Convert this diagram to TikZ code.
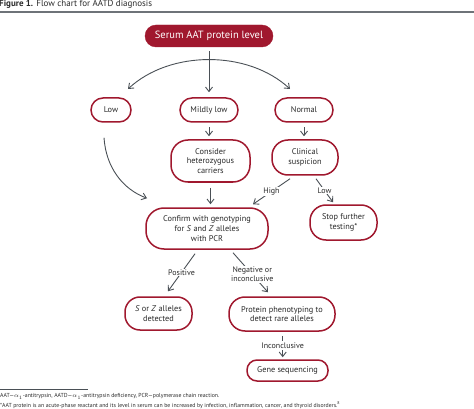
\documentclass[tikz,border=0pt]{standalone}
\usepackage{fontspec}
\setmainfont{PT Sans}
\usetikzlibrary{arrows.meta,calc}
\definecolor{aatred}{HTML}{A0182E}
\definecolor{arrgrey}{HTML}{4A5056}
\definecolor{txtgrey}{HTML}{2A2A2A}
\begin{document}
\begin{tikzpicture}[x=1pt,y=-1pt,
  box/.style={draw=aatred, line width=1.5pt, fill=white, align=center, inner sep=0pt,
    text=txtgrey, font=\fontsize{8.3}{9.6}\selectfont},
  topbox/.style={fill=aatred, draw=aatred, text=white, inner sep=0pt,
    font=\fontsize{10.5}{12}\selectfont, minimum width=128pt, minimum height=22pt, rounded corners=11pt},
  arr/.style={draw=arrgrey, line width=0.9pt, -{Straight Barb[length=4.5pt,width=7pt]}},
  lbl/.style={fill=white, inner sep=1pt, text=txtgrey, font=\fontsize{8}{9.2}\selectfont, align=center}
]
\useasboundingbox (0,0) rectangle (474,409);
% title
\node[anchor=west, inner sep=0pt, text=txtgrey, font=\fontsize{9}{10}\selectfont] (title) at (-1,4.5) {\textbf{Figure 1.} Flow chart for AATD diagnosis};
\draw[draw=arrgrey!80, line width=1.3pt] (0,12) -- (474,12);

\node[topbox] (serum) at (209,36) {Serum AAT protein level};

\node[box, minimum width=40pt, minimum height=24pt, rounded corners=12pt] (low) at (111,110) {Low};
\node[box, minimum width=58pt, minimum height=24pt, rounded corners=12pt] (mild) at (209,110) {Mildly low};
\node[box, minimum width=58pt, minimum height=24pt, rounded corners=12pt] (normal) at (304,110) {Normal};

\node[box, minimum width=79pt, minimum height=42pt, rounded corners=17pt] (cons) at (210.5,161) {Consider\\heterozygous\\carriers};
\node[box, minimum width=66pt, minimum height=35pt, rounded corners=16pt] (clin) at (305,157.5) {Clinical\\suspicion};

\node[box, minimum width=122pt, minimum height=41pt, rounded corners=18pt] (conf) at (207,228.5) {Confirm with genotyping\\for \textit{S} and \textit{Z} alleles\\with PCR};
\node[box, minimum width=67pt, minimum height=35pt, rounded corners=16pt] (stop) at (343.5,222.5) {Stop further\\testing*};

\node[box, minimum width=67pt, minimum height=33pt, rounded corners=15pt] (soz) at (158.5,313.5) {\textit{S} or \textit{Z} alleles\\detected};
\node[box, minimum width=106pt, minimum height=34pt, rounded corners=16pt] (prot) at (282,314) {Protein phenotyping to\\detect rare alleles};
\node[box, minimum width=81pt, minimum height=21pt, rounded corners=10pt] (gene) at (287.5,370.5) {Gene sequencing};

% connectors
\draw[arr, shorten <=4pt, shorten >=5pt] (serum.south) -- (serum.south |- mild.north);
\coordinate (arcL) at (128,89);
\coordinate (arcR) at (290,89);
\draw[draw=arrgrey, line width=0.9pt, {Straight Barb[length=4.5pt,width=7pt]}-{Straight Barb[length=4.5pt,width=7pt]}]
  (arcL) .. controls (170,50) and (248,50) .. (arcR);

\draw[arr, shorten <=4.5pt, shorten >=3pt] (mild.south) -- (mild.south |- cons.north);
\draw[arr, shorten <=4.5pt, shorten >=3pt] (normal.south) -- (normal.south |- clin.north);

\draw[arr] ([xshift=-7pt,yshift=-15pt]low.south) .. controls +(2,30) and +(-24,-9) .. ([xshift=-60pt,yshift=9pt]conf.north);

\draw[arr, shorten <=5pt, shorten >=3pt] (cons.south) -- (cons.south |- conf.north);

\draw[arr] ([xshift=-15pt,yshift=-3pt]clin.south) -- node[lbl]{High} ([xshift=46pt,yshift=3pt]conf.north);
\draw[arr] ([xshift=11pt,yshift=-3pt]clin.south) -- node[lbl]{Low} ([xshift=-10.5pt,yshift=2pt]stop.north);

\draw[arr] ([xshift=-12pt,yshift=-4pt]conf.south) -- node[lbl]{Positive} ([xshift=9.5pt,yshift=5pt]soz.north);
\draw[arr] ([xshift=26pt,yshift=-3pt]conf.south) -- node[lbl, pos=0.55]{Negative or\\inconclusive} ([xshift=-14pt,yshift=4pt]prot.north);

\draw[arr, shorten <=4pt, shorten >=2pt] ([xshift=0.7pt]prot.south) -- node[lbl, inner sep=1.5pt]{Inconclusive} ([xshift=0.7pt]prot.south |- gene.north);

% footnotes
\draw[draw=arrgrey, line width=0.5pt] (0,389) -- (88,389);
\node[anchor=west, inner sep=0pt, text=txtgrey, font=\fontsize{5.8}{7}\selectfont] (fn1) at (0,396.5) {AAT---$\alpha_1$-antitrypsin, AATD---$\alpha_1$-antitrypsin deficiency, PCR---polymerase chain reaction.};
\node[anchor=west, inner sep=0pt, text=txtgrey, font=\fontsize{5.8}{7}\selectfont] (fn2) at (0,405) {*AAT protein is an acute-phase reactant and its level in serum can be increased by infection, inflammation, cancer, and thyroid disorders.\textsuperscript{8}};
\end{tikzpicture}
\end{document}
